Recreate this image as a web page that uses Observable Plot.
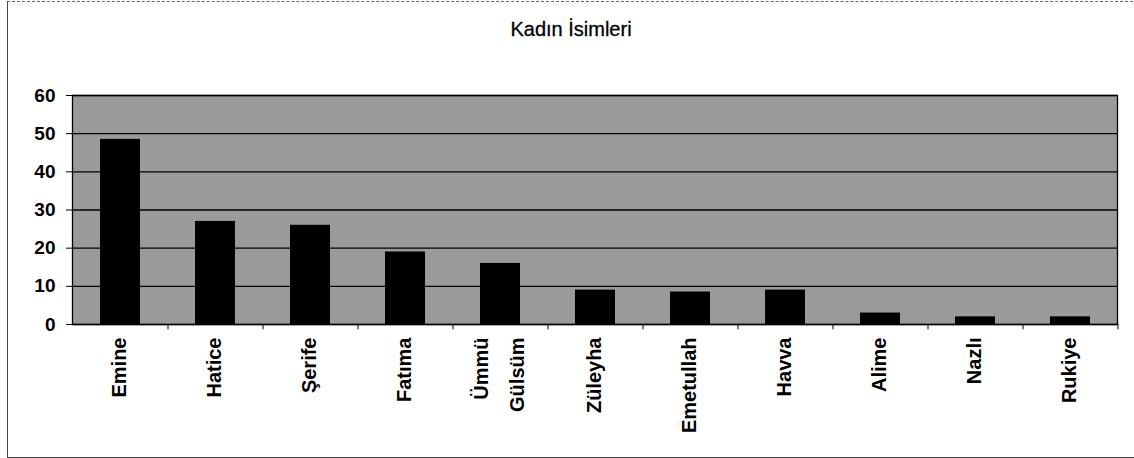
<!DOCTYPE html>
<html><head><meta charset="utf-8">
<script src="https://cdn.jsdelivr.net/npm/d3@7"></script>
<script src="https://cdn.jsdelivr.net/npm/@observablehq/plot@0.6"></script>
<style>
body{margin:0;background:#fff;font-family:Arial,"Liberation Sans",sans-serif;}
#frame{position:absolute;left:7px;top:1px;width:1140px;height:455px;border-left:1px solid #444;border-top:1px dashed #666;border-bottom:1px solid #444;}
#chart{position:absolute;left:0;top:0;}
</style></head><body>
<div id="frame"></div><div id="chart"></div>
<script>
const names = ["Emine","Hatice","Şerife","Fatıma","Ümmü\nGülsüm","Züleyha","Emetullah","Havva","Alime","Nazlı","Rukiye"];
const counts = [48.5,27,26,19,16,9,8.5,9,3,2,2];
const yTicks = [0,10,20,30,40,50,60];
const title = "Kadın İsimleri";
const data = names.map((n,i)=>({name:n,count:counts[i]}));

const plot = Plot.plot({
  width:1134, height:458,
  marginLeft:72, marginRight:17, marginTop:95, marginBottom:134,
  style:{fontFamily:"Arial, 'Liberation Sans', sans-serif", background:"transparent", color:"#000"},
  x:{domain:names, paddingInner:0.58, paddingOuter:0.29, axis:null, label:null},
  y:{domain:[0,60], ticks:yTicks, label:null},
  marks:[
    Plot.frame({fill:"#9a9a9a"}),
    Plot.gridY(yTicks,{stroke:"#000", strokeOpacity:1, strokeWidth:1.3}),
    Plot.barY(data,{x:"name", y:"count", fill:"#000"}),
    Plot.frame({stroke:"#000", strokeWidth:1.3}),
    Plot.axisY(yTicks,{tickSize:6, tickPadding:11, fontSize:19, fontWeight:"bold", label:null, stroke:"#000"}),
    Plot.ruleX(names,{x:d=>d, dx:47.5, y1:0, y2:-1.4, stroke:"#000", clip:false}),
    Plot.text(data,{x:"name", text:"name", frameAnchor:"bottom", dx:-6, dy:13, rotate:-90, textAnchor:"end", lineAnchor:"middle", fontSize:20, fontWeight:"bold", lineHeight:1.8, fill:"#000"}),
    Plot.text([title],{frameAnchor:"top", dx:-24, dy:-60, lineAnchor:"bottom", fontSize:20, fill:"#000", stroke:"#000", strokeWidth:0.3})
  ]
});
document.getElementById("chart").appendChild(plot);
</script>
</body></html>
